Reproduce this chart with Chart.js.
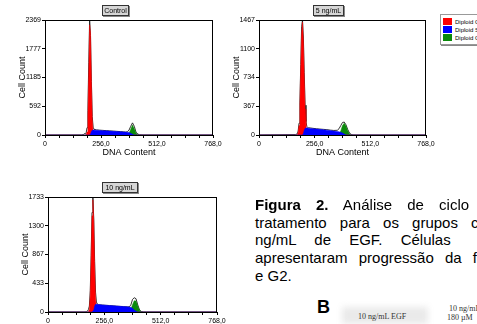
<!DOCTYPE html>
<html>
<head>
<meta charset="utf-8">
<script src="https://cdn.jsdelivr.net/npm/chart.js@4.4.0/dist/chart.umd.min.js"></script>
<style>
  body { margin: 0; width: 477px; height: 324px; overflow: hidden; background: #fff; position: relative; font-family: Arial, "Liberation Sans", sans-serif; }
  canvas { position: absolute; }
  .tag { position: absolute; height: 9px; background: #d6d6d6; border: 1px solid #333; box-shadow: 1px 1px 0 #888; font-size: 7px; line-height: 9px; text-align: center; color: #000; }
  #legend { position: absolute; left: 440px; top: 14px; width: 60px; height: 29px; border: 1px solid #999; box-shadow: 1px 1px 0 #888; background: #fff; }
  #legend div { position: absolute; left: 2px; font-size: 6px; line-height: 8px; white-space: nowrap; }
  #legend span { display: inline-block; width: 9px; height: 7px; vertical-align: -1px; margin-right: 3px; }
  .line { position: absolute; left: 255px; font-size: 15px; line-height: 18px; white-space: nowrap; color: #000; }
  .serif { position: absolute; font-family: "Liberation Serif", "DejaVu Serif", serif; font-size: 8px; line-height: 9px; color: #333; white-space: nowrap; }
</style>
</head>
<body>
<canvas id="ctrl" width="230" height="162" style="left:0;top:0"></canvas>
<canvas id="ng5" width="210" height="162" style="left:230px;top:0"></canvas>
<canvas id="ng10" width="235" height="162" style="left:0;top:177px"></canvas>

<div class="tag" style="left:102px;top:5px;width:25px">Control</div>
<div class="tag" style="left:313px;top:5px;width:29px">5 ng/mL</div>
<div class="tag" style="left:102px;top:182px;width:34px">10 ng/mL</div>
<div id="legend"></div>

<div class="line" style="top:196px;word-spacing:11px"><b>Figura 2.</b> Análise de ciclo</div>
<div class="line" style="top:214px;word-spacing:9px">tratamento para os grupos controle</div>
<div class="line" style="top:231px;word-spacing:14px">ng/mL de EGF. Células</div>
<div class="line" style="top:249px;word-spacing:7px">apresentaram progressão da fase</div>
<div class="line" style="top:267px">e G2.</div>

<div style="position:absolute;left:342px;top:307px;width:86px;height:17px;background:#eaeaea;filter:blur(3px)"></div>
<div style="position:absolute;left:317px;top:297px;font-size:18px;line-height:20px;font-weight:bold">B</div>
<div class="serif" style="left:358px;top:312px">10 ng/mL EGF</div>
<div class="serif" style="left:449px;top:304px">10 ng/mL</div>
<div class="serif" style="left:447px;top:313px">180 µM</div>

<script>
// channel grid shared by all three histograms
const channels = [0, 168, 176, 180, 184, 188, 192, 196, 200, 204, 208, 212, 216, 220, 224, 228, 236, 248,
  264, 280, 296, 312, 328, 344, 360, 368, 376, 384, 392, 400, 408, 416, 424, 432, 448, 768];

// Control
const ctrlData = [0, 0, 10, 30, 20, 40, 150, 500, 1500, 2369, 2050, 1100, 380, 160, 120, 110, 105, 100,
  95, 90, 85, 80, 75, 70, 65, 60, 65, 100, 180, 250, 180, 60, 20, 5, 0, 0];
const ctrlG1 = [0, 0, 0, 0, 0, 0, 60, 400, 1300, 2270, 2100, 1150, 330, 60, 0, 0, 0, 0,
  0, 0, 0, 0, 0, 0, 0, 0, 0, 0, 0, 0, 0, 0, 0, 0, 0, 0];
const ctrlS = [0, 0, 0, 0, 0, 0, 0, 0, 0, 0, 20, 70, 100, 105, 105, 100, 100, 95,
  90, 85, 80, 75, 72, 68, 62, 60, 58, 50, 35, 15, 0, 0, 0, 0, 0, 0];
const ctrlG2 = [0, 0, 0, 0, 0, 0, 0, 0, 0, 0, 0, 0, 0, 0, 0, 0, 0, 0,
  0, 0, 0, 0, 0, 0, 0, 0, 0, 30, 120, 205, 130, 40, 5, 0, 0, 0];

// 5 ng/mL
const ng5Data = [0, 5, 15, 50, 150, 420, 900, 1380, 1467, 1250, 800, 380, 170, 110, 95, 92, 90, 85,
  80, 75, 72, 68, 62, 58, 60, 80, 120, 160, 165, 130, 70, 25, 8, 0, 0, 0];
const ng5G1 = [0, 0, 0, 30, 120, 380, 850, 1300, 1440, 1200, 750, 330, 110, 30, 5, 0, 0, 0,
  0, 0, 0, 0, 0, 0, 0, 0, 0, 0, 0, 0, 0, 0, 0, 0, 0, 0];
const ng5S = [0, 0, 0, 0, 0, 0, 0, 0, 0, 20, 60, 85, 92, 90, 88, 86, 84, 80,
  76, 72, 68, 62, 56, 50, 45, 40, 35, 25, 12, 0, 0, 0, 0, 0, 0, 0];
const ng5G2 = [0, 0, 0, 0, 0, 0, 0, 0, 0, 0, 0, 0, 0, 0, 0, 0, 0, 0,
  0, 0, 0, 0, 0, 0, 0, 10, 50, 120, 150, 115, 55, 15, 0, 0, 0, 0];

// 10 ng/mL
const ng10Data = [0, 0, 5, 15, 40, 90, 320, 850, 1500, 1718, 1400, 760, 300, 150, 120, 110, 108, 105,
  100, 97, 93, 88, 84, 80, 78, 78, 100, 190, 215, 200, 105, 30, 8, 0, 0, 0];
const ng10G1 = [0, 0, 0, 0, 0, 40, 250, 800, 1450, 1690, 1350, 700, 220, 50, 5, 0, 0, 0,
  0, 0, 0, 0, 0, 0, 0, 0, 0, 0, 0, 0, 0, 0, 0, 0, 0, 0];
const ng10S = [0, 0, 0, 0, 0, 0, 0, 0, 0, 0, 30, 90, 115, 118, 115, 112, 110, 106,
  102, 98, 94, 90, 86, 82, 78, 75, 70, 55, 30, 10, 0, 0, 0, 0, 0, 0];
const ng10G2 = [0, 0, 0, 0, 0, 0, 0, 0, 0, 0, 0, 0, 0, 0, 0, 0, 0, 0,
  0, 0, 0, 0, 0, 0, 0, 0, 30, 110, 170, 165, 90, 25, 5, 0, 0, 0];

const ctrlYTicks = [0, 592, 1185, 1777, 2369];
const ng5YTicks = [0, 367, 734, 1100, 1467];
const ng10YTicks = [0, 433, 867, 1300, 1733];
const xTickLabels = ['0', '256,0', '512,0', '768,0'];

const phaseNames = ['Diploid G1', 'Diploid S', 'Diploid G2'];
const phaseColors = ['#ff0000', '#0000ff', '#0a8a0a'];

// legend
const legend = document.getElementById('legend');
phaseNames.forEach((name, i) => {
  const row = document.createElement('div');
  row.style.top = (3 + i * 8) + 'px';
  row.innerHTML = '<span style="background:' + phaseColors[i] + '"></span>' + name;
  legend.appendChild(row);
});

// box around the plot area
const frame = {
  id: 'frame',
  afterDraw(chart) {
    const { ctx, chartArea: a } = chart;
    ctx.save();
    ctx.strokeStyle = '#000';
    ctx.lineWidth = 1;
    ctx.strokeRect(a.left + 0.5, a.top + 0.5, a.right - a.left - 1, a.bottom - a.top);
    ctx.restore();
  }
};

function histogram(id, raw, g1, s, g2, yTicks, pad) {
  const pts = arr => channels.map((c, i) => ({ x: c, y: arr[i] }));
  const phase = (k, arr) => ({
    label: phaseNames[k], data: pts(arr),
    backgroundColor: phaseColors[k], borderColor: phaseColors[k], borderWidth: 0.5, fill: 'origin'
  });
  return new Chart(document.getElementById(id), {
    type: 'line',
    data: {
      datasets: [
        phase(1, s),
        phase(0, g1),
        phase(2, g2),
        { label: 'data', data: pts(raw), borderColor: 'rgba(30,30,30,0.9)', borderWidth: 1, fill: false }
      ]
    },
    options: {
      responsive: false,
      animation: false,
      layout: { padding: pad },
      elements: { point: { radius: 0 }, line: { tension: 0 } },
      plugins: { legend: { display: false }, tooltip: { enabled: false } },
      scales: {
        x: {
          type: 'linear', min: 0, max: 768,
          afterFit: sc => { sc.height = 25; },
          ticks: {
            stepSize: 64, autoSkip: false, maxRotation: 0, padding: 2,
            font: { size: 7, family: 'Arial' }, color: '#000',
            callback: v => (v % 256 === 0 ? xTickLabels[v / 256] : '')
          },
          grid: { drawOnChartArea: false, tickLength: 3, color: '#000' },
          border: { color: '#000' },
          title: { display: true, text: 'DNA Content', color: '#000', font: { size: 9, family: 'Arial' }, padding: { top: 0, bottom: 2 } }
        },
        y: {
          min: 0, max: yTicks[yTicks.length - 1],
          afterFit: sc => { sc.width = 28; },
          afterBuildTicks: ax => { ax.ticks = yTicks.map(v => ({ value: v })); },
          ticks: { padding: 1, font: { size: 7, family: 'Arial' }, color: '#000', callback: v => String(v) },
          grid: { drawOnChartArea: false, tickLength: 3, color: '#000' },
          border: { color: '#000' },
          title: { display: true, text: 'Cell Count', color: '#000', font: { size: 9, family: 'Arial' }, padding: { top: 0, bottom: 0 } }
        }
      }
    },
    plugins: [frame]
  });
}

histogram('ctrl', ctrlData, ctrlG1, ctrlS, ctrlG2, ctrlYTicks, { left: 17, right: 17, top: 20, bottom: 2 });
histogram('ng5', ng5Data, ng5G1, ng5S, ng5G2, ng5YTicks, { left: 1, right: 14, top: 20, bottom: 2 });
histogram('ng10', ng10Data, ng10G1, ng10S, ng10G2, ng10YTicks, { left: 20, right: 18, top: 20, bottom: 2 });
</script>
</body>
</html>
